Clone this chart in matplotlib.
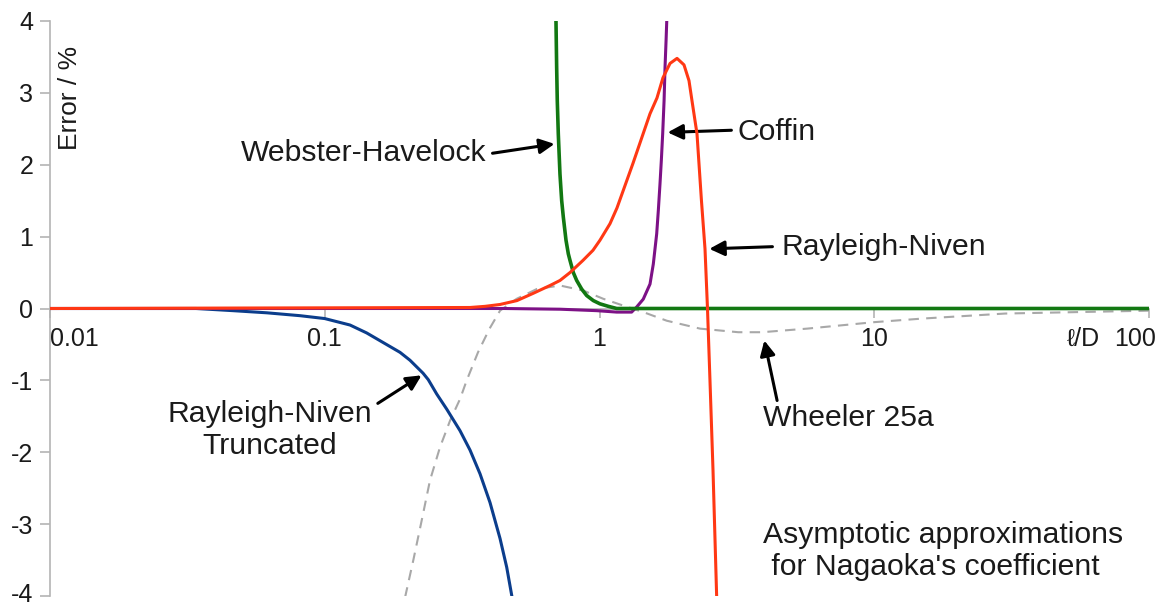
import matplotlib
matplotlib.use("Agg")
import matplotlib.pyplot as plt
import matplotlib.transforms as mtransforms

plt.rcParams['font.family'] = ['Liberation Sans', 'DejaVu Sans']
plt.rcParams['axes.unicode_minus'] = False

# error curves (% error vs l/D)
rn_trunc_x = [0.01, 0.034, 0.0463, 0.0616, 0.0813, 0.1, 0.1236, 0.1421, 0.1879, 0.2043, 0.2279, 0.2381,
              0.2556, 0.2779, 0.3107, 0.3379, 0.3674, 0.3995, 0.4345, 0.4595, 0.4817]
rn_trunc_y = [0, 0, -0.03, -0.06, -0.10, -0.14, -0.23, -0.34, -0.61, -0.72, -0.90, -0.99,
              -1.19, -1.40, -1.70, -1.97, -2.30, -2.70, -3.20, -3.60, -4.04]

wheeler_x = [0.196, 0.2101, 0.2253, 0.2416, 0.2627, 0.2858, 0.3107, 0.3286, 0.3612, 0.398, 0.4345, 0.4995,
             0.5906, 0.718, 0.8725, 1.032, 1.221, 1.443, 1.757, 2.322, 3.2, 3.9, 5.7, 10, 15, 30, 100]
wheeler_y = [-4.02, -3.50, -2.95, -2.39, -1.93, -1.56, -1.26, -1.0, -0.61, -0.28, -0.03, 0.135,
             0.27, 0.32, 0.25, 0.135, 0.04, -0.05, -0.17, -0.28, -0.33, -0.33, -0.28, -0.19, -0.14, -0.07, -0.03]

webster_x = [0.6944, 0.6983, 0.702, 0.708, 0.718, 0.7284, 0.7385, 0.7552, 0.7701, 0.7809, 0.803, 0.826,
             0.8613, 0.8983, 0.9495, 1.004, 1.077, 1.155, 100]
webster_y = [4.0, 3.36, 2.89, 2.43, 1.87, 1.50, 1.27, 0.95, 0.76, 0.67, 0.50, 0.39,
             0.27, 0.18, 0.11, 0.065, 0.03, 0.0, 0.0]

coffin_x = [0.01, 0.45, 0.72, 0.9765, 1.155, 1.309, 1.365, 1.443, 1.527, 1.570, 1.615, 1.637, 1.660,
            1.679, 1.698, 1.718, 1.732, 1.747, 1.757]
coffin_y = [0, 0, -0.01, -0.03, -0.05, -0.05, 0.02, 0.13, 0.34, 0.62, 1.04, 1.36, 1.73,
            2.06, 2.43, 2.89, 3.36, 3.73, 4.0]

rn_x = [0.01, 0.3379, 0.3832, 0.4345, 0.5006, 0.5728, 0.6604, 0.718, 0.7809, 0.871, 0.9469, 1.004, 1.092,
        1.158, 1.324, 1.527, 1.619, 1.702, 1.806, 1.915, 2.030, 2.117, 2.171, 2.264, 2.350, 2.421,
        2.472, 2.524, 2.589, 2.670]
rn_y = [0, 0.014, 0.03, 0.056, 0.11, 0.21, 0.32, 0.39, 0.50, 0.67, 0.81, 0.95, 1.18,
        1.40, 2.02, 2.71, 2.93, 3.21, 3.41, 3.48, 3.39, 3.17, 2.89, 2.43, 1.50, 0.83,
        0.0, -1.0, -2.25, -4.02]

xticks = [0.01, 0.1, 1, 10, 100]
xtick_labels = ["0.01", "0.1", "1", "10", "100"]
yticks = [-4, -3, -2, -1, 0, 1, 2, 3, 4]

axis_grey = "#b4b4b4"

fig = plt.figure(figsize=(11.63, 6.07), dpi=100)
ax = fig.add_axes([50 / 1163, 11 / 607, 1099 / 1163, 575 / 607])

ax.plot(rn_trunc_x, rn_trunc_y, color="#0b3d8c", lw=2.2, zorder=3)
ax.plot(wheeler_x, wheeler_y, color="#a8a8a8", lw=1.5, ls=(0, (5, 3.5)), zorder=2)
ax.plot(coffin_x, coffin_y, color="#7d1186", lw=2.2, zorder=4)
ax.plot(webster_x, webster_y, color="#127812", lw=2.6, zorder=5)
ax.plot(rn_x, rn_y, color="#ff3814", lw=2.2, zorder=6)

ax.set_xscale("log")
ax.set_xlim(0.01, 100)
ax.set_ylim(-4, 4)

for side in ["top", "right"]:
    ax.spines[side].set_visible(False)
ax.spines["bottom"].set_position(("data", 0))
ax.spines["bottom"].set_color(axis_grey)
ax.spines["left"].set_color(axis_grey)
ax.spines["bottom"].set_linewidth(1.2)
ax.spines["left"].set_linewidth(1.2)

ax.set_xticks(xticks)
ax.set_xticklabels(xtick_labels)
ax.xaxis.set_minor_locator(matplotlib.ticker.NullLocator())
ax.set_yticks(yticks)
ax.set_yticklabels([str(v) for v in yticks])
ax.tick_params(axis="x", direction="out", length=6.5, width=1.2, color=axis_grey,
               labelsize=18, pad=7, labelcolor="#1a1a1a")
ax.tick_params(axis="y", direction="out", length=7, width=1.2, color=axis_grey,
               labelsize=18, pad=5, labelcolor="#1a1a1a")

# first and last x labels sit inside the axis ends
xl = ax.get_xticklabels()
xl[0].set_ha("left")
xl[-1].set_transform(xl[-1].get_transform() + mtransforms.ScaledTranslation(-0.14, 0, fig.dpi_scale_trans))
# keep the bottom y label clear of the figure edge
yl = ax.get_yticklabels()
yl[0].set_va("bottom")
yl[0].set_transform(yl[0].get_transform() + mtransforms.ScaledTranslation(0, -0.105, fig.dpi_scale_trans))

ax.text(0.0118, 3.66, "Error / %", rotation=90, ha="center", va="top", fontsize=19, color="#1a1a1a")
ax.text(50.4, -0.42, "\u2113/D", ha="left", va="center", fontsize=18, color="#1a1a1a")

arrow = dict(arrowstyle="-|>,head_length=0.9,head_width=0.45", lw=2.2, color="black",
             shrinkA=0, shrinkB=0, mutation_scale=10)
txt = dict(fontsize=21.7, color="#1a1a1a")

ax.text(0.388, 2.17, "Webster-Havelock", ha="right", va="center", **txt)
ax.annotate("", xy=(0.686, 2.29), xytext=(0.408, 2.16), arrowprops=arrow)

ax.text(3.18, 2.45, "Coffin", ha="left", va="center", **txt)
ax.annotate("", xy=(1.77, 2.45), xytext=(3.02, 2.48), arrowprops=arrow)

ax.text(4.59, 0.85, "Rayleigh-Niven", ha="left", va="center", **txt)
ax.annotate("", xy=(2.51, 0.83), xytext=(4.26, 0.86), arrowprops=arrow)

ax.text(3.92, -1.53, "Wheeler 25a", ha="left", va="center", **txt)
ax.annotate("", xy=(3.98, -0.445), xytext=(4.43, -1.28), arrowprops=arrow)

ax.text(0.063, -1.69, "Rayleigh-Niven\nTruncated", ha="center", va="center",
        multialignment="center", linespacing=1.2, **txt)
ax.annotate("", xy=(0.225, -0.93), xytext=(0.156, -1.32), arrowprops=arrow)

ax.text(3.92, -3.37, "Asymptotic approximations\n for Nagaoka's coefficient", ha="left",
        va="center", linespacing=1.2, **txt)

fig.savefig("out.png", dpi=100)
